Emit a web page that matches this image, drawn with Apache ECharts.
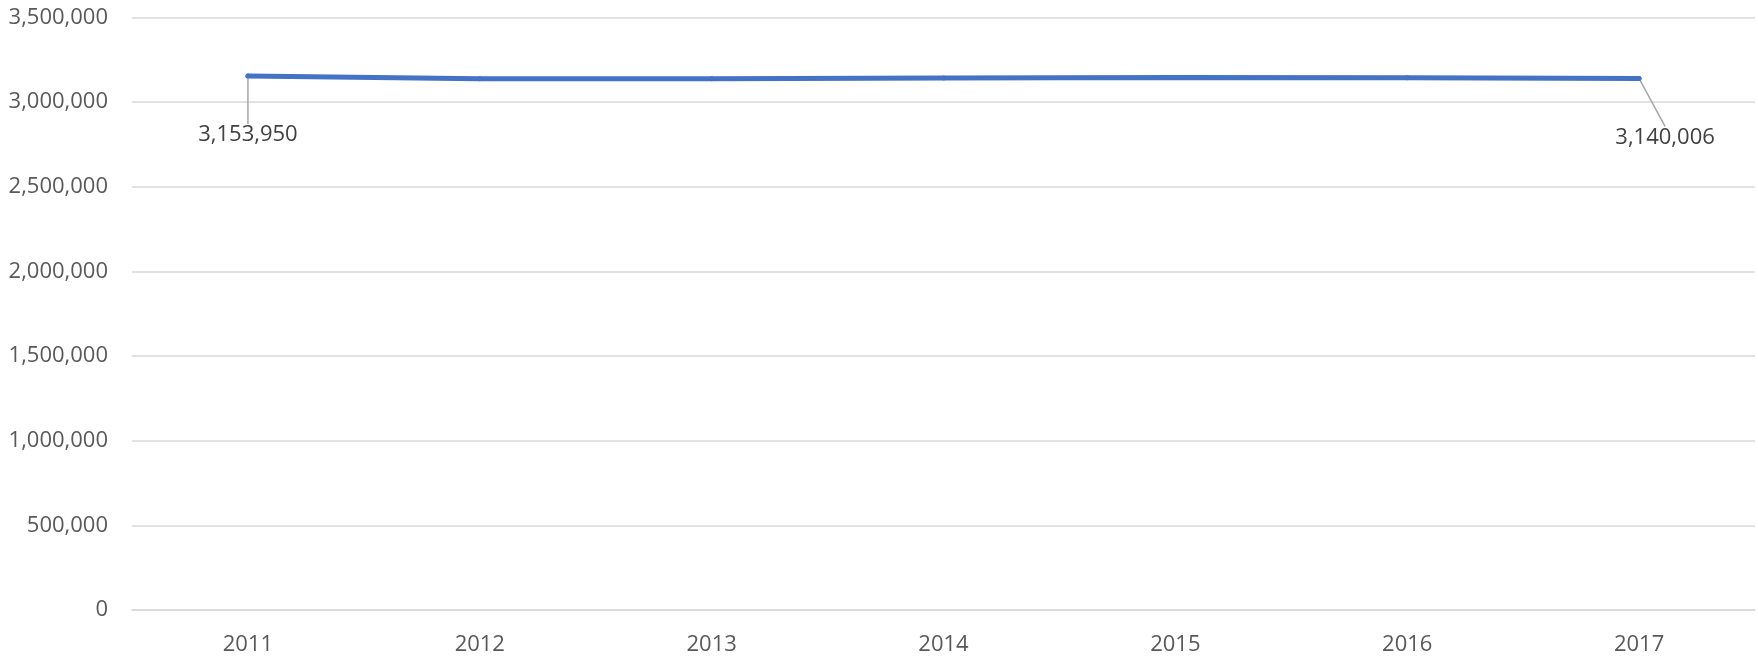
<!DOCTYPE html>
<html>
<head>
<meta charset="utf-8">
<script src="https://cdn.jsdelivr.net/npm/echarts@6/dist/echarts.min.js"></script>
<style>
html,body{margin:0;padding:0;background:#fff;}
#chart{width:1758px;height:656px;}
</style>
</head>
<body>
<div id="chart"></div>
<script>
var categories = ['2011', '2012', '2013', '2014', '2015', '2016', '2017'];
var values = [3153950, 3138000, 3138500, 3143000, 3145500, 3144000, 3140006];
var labelledIndices = [0, 6];

var fmt = function (v) { return v.toLocaleString('en-US'); };

var seriesData = values.map(function (v, i) {
  var item = { value: v };
  if (labelledIndices.indexOf(i) >= 0) {
    item.label = { show: true };
    item.labelLine = { show: true };
  }
  return item;
});

var chart = echarts.init(document.getElementById('chart'), null, { renderer: 'canvas' });
chart.setOption({
  animation: false,
  backgroundColor: '#ffffff',
  grid: { left: 132, right: 3, top: 17.5, bottom: 42, containLabel: false },
  xAxis: {
    type: 'category',
    data: categories,
    boundaryGap: true,
    axisLine: { show: true, lineStyle: { color: '#d9d9d9', width: 1.5 } },
    axisTick: { show: false },
    axisLabel: { color: '#595959', fontSize: 22, fontFamily: 'Open Sans', margin: 24 }
  },
  yAxis: {
    type: 'value',
    min: 0,
    max: 3500000,
    interval: 500000,
    axisLine: { show: false },
    axisTick: { show: false },
    splitLine: { lineStyle: { color: '#d9d9d9', width: 1.5 } },
    axisLabel: { color: '#595959', fontSize: 22, fontFamily: 'Open Sans', margin: 24, formatter: fmt }
  },
  series: [{
    type: 'line',
    data: seriesData,
    showSymbol: true,
    symbol: 'circle',
    symbolSize: 5,
    itemStyle: { color: '#4472C4' },
    lineStyle: { color: '#4472C4', width: 5, cap: 'round' },
    label: {
      show: false,
      position: 'inside',
      color: '#404040',
      fontSize: 22,
      fontFamily: 'Open Sans',
      padding: [19, 0, 0, 0],
      formatter: function (p) { return fmt(p.value); }
    },
    labelLine: { show: false, lineStyle: { color: '#a6a6a6', width: 1.5 } },
    labelLayout: function (p) {
      if (p.dataIndex === 0) return { dx: 0, dy: 59 };
      return { dx: 26, dy: 59 };
    }
  }]
});
</script>
</body>
</html>
